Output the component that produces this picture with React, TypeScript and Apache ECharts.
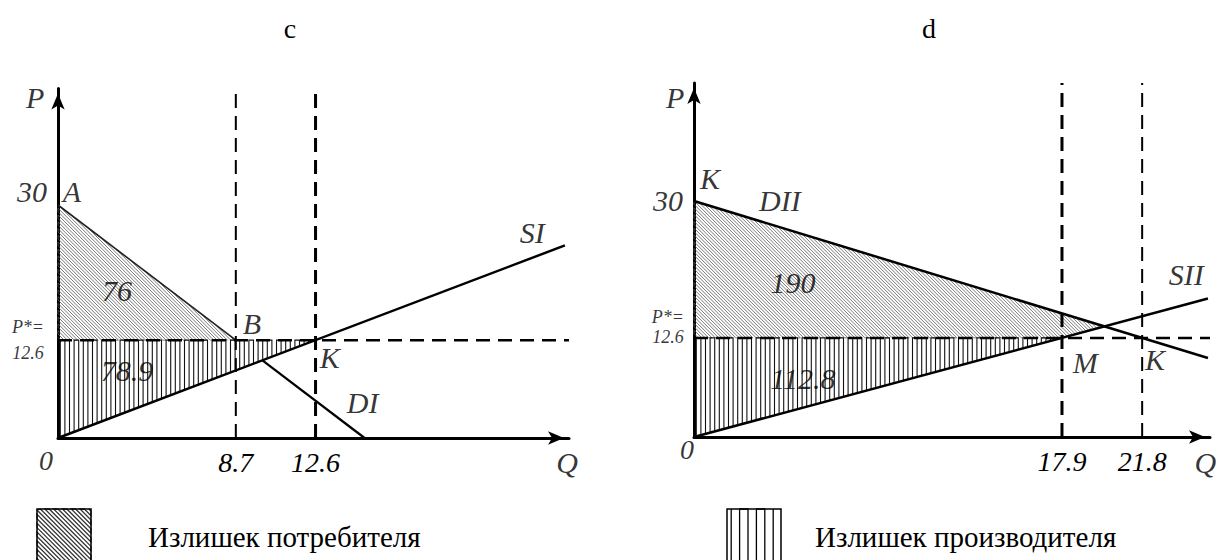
import React, { useEffect, useRef } from "react";
import * as echarts from "echarts";

// ---------- panel titles ----------
const panelTitles = ["c", "d"];

// ---------- panel c (left) ----------
const cXMax = 25;
const cYMax = 45;
const cXTicks = [8.7, 12.6];
const cDemandUpper = [[0, 30], [8.7, 12.6]];
const cDemandLower = [[10, 10], [15, 0]];
const cSupply = [[0, 0], [24.8, 24.8]];
const cPriceLine = [[0, 12.6], [25, 12.6]];
const cQuantityLines = [8.7, 12.6];
const cConsumerArea = [[0, 30], [0, 12.6], [8.7, 12.6]];
const cProducerArea = [[0, 0], [0, 12.6], [12.6, 12.6]];
// [text, x, y, kind]
const cLabels: [string, number, number, string][] = [
  ["P", -1.12, 43.8, "big"],
  ["30", -1.27, 31.7, "big"],
  ["A", 0.68, 31.7, "big"],
  ["P*=", -1.47, 14.3, "small"],
  ["12.6", -1.47, 10.9, "small"],
  ["76", 2.89, 19.05, "big"],
  ["B", 9.49, 14.8, "big"],
  ["78.9", 3.37, 8.75, "big"],
  ["K", 13.3, 10.4, "big"],
  ["DI", 14.9, 4.6, "big"],
  ["SI", 23.2, 26.4, "big"],
  ["0", -0.59, -2.85, "tick"],
  ["Q", 24.9, -3.1, "big"],
];

// ---------- panel d (right) ----------
const dXMax = 25.1;
const dYMax = 45;
const dXTicks = [17.9, 21.8];
const dDemand = [[0, 30], [25, 10.05]];
const dSupply = [[0, 0], [25, 17.6]];
const dPriceLine = [[0, 12.6], [25.1, 12.6]];
const dQuantityLines = [17.9, 21.8];
const dConsumerArea = [[0, 30], [19.9, 14.1], [17.9, 12.6], [0, 12.6]];
const dProducerArea = [[0, 0], [0, 12.6], [17.9, 12.6]];
const dLabels: [string, number, number, string][] = [
  ["P", -0.92, 43.1, "big"],
  ["30", -1.27, 30.1, "big"],
  ["K", 0.78, 32.9, "big"],
  ["DII", 4.18, 30.1, "big"],
  ["190", 4.82, 19.6, "big"],
  ["112.8", 5.3, 7.5, "big"],
  ["P*=", -1.27, 15.25, "small"],
  ["12.6", -1.27, 12.7, "small"],
  ["M", 19.03, 9.5, "big"],
  ["K", 22.43, 9.8, "big"],
  ["SII", 23.94, 20.6, "big"],
  ["0", -0.34, -1.65, "tick"],
  ["Q", 24.87, -3.2, "big"],
];

// ---------- legend ----------
const legendTexts = ["Излишек потребителя", "Излишек производителя"];

const SERIF = "Liberation Serif";
const labelSizes: Record<string, number> = { big: 30, small: 18, tick: 28 };

type Pt = number[];

// zig-zag hatch in pixel space: consecutive strokes are joined along the region's border
function hatchPoints(pts: Pt[], kind: "vert" | "diag", step: number) {
  const out: number[][] = [];
  const proj = kind === "vert" ? (p: Pt) => p[0] : (p: Pt) => p[1] - p[0];
  const vals = pts.map(proj);
  const lo = Math.min(...vals);
  const hi = Math.max(...vals);
  let k = 0;
  for (let c = lo + step / 2; c < hi; c += step) {
    const hits: Pt[] = [];
    for (let i = 0; i < pts.length; i++) {
      const a = pts[i];
      const b = pts[(i + 1) % pts.length];
      const fa = proj(a) - c;
      const fb = proj(b) - c;
      if ((fa <= 0 && fb > 0) || (fa > 0 && fb <= 0)) {
        const t = fa / (fa - fb);
        hits.push([a[0] + t * (b[0] - a[0]), a[1] + t * (b[1] - a[1])]);
      }
    }
    if (hits.length >= 2) {
      hits.sort((p, q) => p[1] - q[1]);
      const p = hits[0];
      const q = hits[hits.length - 1];
      if (k % 2 === 0) out.push(p, q);
      else out.push(q, p);
      k++;
    }
  }
  return out;
}

function lineSeries(gi: number, data: Pt[], width: number, color = "#000", type: any = "solid", z = 3) {
  return {
    type: "line",
    xAxisIndex: gi,
    yAxisIndex: gi,
    data,
    symbol: "none",
    showSymbol: false,
    silent: true,
    clip: false,
    z,
    lineStyle: { width, color, type, cap: "butt", join: "miter" },
    emphasis: { disabled: true },
  };
}

function labelSeries(gi: number, items: [string, number, number, string][]) {
  return {
    type: "scatter",
    xAxisIndex: gi,
    yAxisIndex: gi,
    silent: true,
    clip: false,
    symbolSize: 1,
    z: 5,
    itemStyle: { color: "rgba(0,0,0,0)" },
    data: items.map(([t, x, y, kind]) => ({
      value: [x, y],
      label: {
        show: true,
        position: "inside",
        formatter: t,
        fontSize: labelSizes[kind],
        fontStyle: "italic",
        fontFamily: SERIF,
        color: "#000",
        textBorderWidth: 0,
      },
    })),
  };
}

function axes(gi: number, xMax: number, yMax: number, ticks: number[]) {
  const axisLine = {
    show: true,
    onZero: false,
    symbol: ["none", "arrow"],
    symbolSize: [10, 16],
    symbolOffset: [0, -5],
    lineStyle: { color: "#000", width: 3 },
  };
  return {
    x: {
      type: "value",
      gridIndex: gi,
      min: 0,
      max: xMax,
      axisLine,
      axisTick: { show: false },
      splitLine: { show: false },
      axisLabel: {
        show: true,
        customValues: ticks,
        formatter: (v: number) => String(v),
        fontSize: 28,
        fontStyle: "italic",
        fontFamily: SERIF,
        color: "#000",
        margin: 10,
      },
    },
    y: {
      type: "value",
      gridIndex: gi,
      min: 0,
      max: yMax,
      axisLine,
      axisTick: { show: false },
      splitLine: { show: false },
      axisLabel: { show: false },
    },
  };
}

function legendGraphics() {
  const els: any[] = [];
  const b1 = { x: 37, y: 509, w: 54, h: 60 };
  const r1 = [[b1.x, b1.y], [b1.x + b1.w, b1.y], [b1.x + b1.w, b1.y + b1.h], [b1.x, b1.y + b1.h]];
  els.push({ type: "polyline", shape: { points: hatchPoints(r1, "diag", 4.4) }, style: { stroke: "#333", lineWidth: 1.3, fill: "none" } });
  els.push({ type: "rect", shape: { x: b1.x, y: b1.y, width: b1.w, height: b1.h }, style: { fill: "none", stroke: "#000", lineWidth: 1.5 } });
  const b2 = { x: 727, y: 509, w: 54, h: 60 };
  const r2 = [[b2.x, b2.y], [b2.x + b2.w, b2.y], [b2.x + b2.w, b2.y + b2.h], [b2.x, b2.y + b2.h]];
  els.push({ type: "polyline", shape: { points: hatchPoints(r2, "vert", 8.4) }, style: { stroke: "#000", lineWidth: 1.3, fill: "none" } });
  els.push({ type: "rect", shape: { x: b2.x, y: b2.y, width: b2.w, height: b2.h }, style: { fill: "none", stroke: "#000", lineWidth: 1.5 } });
  els.push({ type: "text", x: 148, y: 537, style: { text: legendTexts[0], font: "29px Liberation Serif", fill: "#000", align: "left", verticalAlign: "middle" } });
  els.push({ type: "text", x: 815, y: 537, style: { text: legendTexts[1], font: "29px Liberation Serif", fill: "#000", align: "left", verticalAlign: "middle" } });
  els.push({ type: "text", x: 290, y: 28, style: { text: panelTitles[0], font: "28px Liberation Serif", fill: "#000", align: "center", verticalAlign: "middle" } });
  els.push({ type: "text", x: 929, y: 28, style: { text: panelTitles[1], font: "28px Liberation Serif", fill: "#000", align: "center", verticalAlign: "middle" } });
  return els;
}

export default function App() {
  const ref = useRef<HTMLDivElement>(null);
  useEffect(() => {
    if (!ref.current) return;
    const chart = echarts.init(ref.current, undefined, { renderer: "svg" });
    const a0 = axes(0, cXMax, cYMax, cXTicks);
    const a1 = axes(1, dXMax, dYMax, dXTicks);
    const dash = [14, 8];
    const base: any = {
      animation: false,
      backgroundColor: "#fff",
      textStyle: { fontFamily: SERIF, color: "#000" },
      grid: [
        { left: 58, top: 88.5, width: 511, height: 349.5, outerBoundsMode: "none", containLabel: false },
        { left: 694, top: 83, width: 516, height: 354, outerBoundsMode: "none", containLabel: false },
      ],
      xAxis: [a0.x, a1.x],
      yAxis: [a0.y, a1.y],
      graphic: legendGraphics(),
    };
    const mainSeries = [
      lineSeries(0, cDemandUpper, 1.6, "#222"),
      lineSeries(0, cDemandLower, 2.2),
      lineSeries(0, cSupply, 2.5),
      lineSeries(0, cPriceLine, 2.5, "#000", dash),
      lineSeries(0, [[cQuantityLines[0], 0], [cQuantityLines[0], cYMax]], 2, "#000", dash),
      lineSeries(0, [[cQuantityLines[1], 0], [cQuantityLines[1], cYMax]], 3, "#000", dash),
      labelSeries(0, cLabels),
      lineSeries(1, dDemand, 2.5),
      lineSeries(1, dSupply, 2.5),
      lineSeries(1, dPriceLine, 2.5, "#000", dash),
      lineSeries(1, [[dQuantityLines[0], 0], [dQuantityLines[0], dYMax]], 3, "#000", dash),
      lineSeries(1, [[dQuantityLines[1], 0], [dQuantityLines[1], dYMax]], 2, "#000", dash),
      labelSeries(1, dLabels),
    ];
    chart.setOption({ ...base, series: mainSeries });

    // hatching: clip strokes in pixel space using the chart's own scales, then map back to data
    const hatch = (gi: number, poly: Pt[], kind: "vert" | "diag", step: number, width: number, color: string) => {
      const finder = { xAxisIndex: gi, yAxisIndex: gi };
      const px = poly.map((p) => chart.convertToPixel(finder, p) as number[]);
      const data = hatchPoints(px, kind, step).map((p) => chart.convertFromPixel(finder, p) as number[]);
      return lineSeries(gi, data, width, color, "solid", 1);
    };
    const hatchSeries = [
      hatch(0, cConsumerArea, "diag", 3.4, 0.8, "#555"),
      hatch(0, cProducerArea, "vert", 4.6, 1.1, "#111"),
      hatch(1, dConsumerArea, "diag", 3.4, 0.8, "#555"),
      hatch(1, dProducerArea, "vert", 4.6, 1.1, "#111"),
    ];
    chart.setOption({ ...base, series: [...hatchSeries, ...mainSeries] }, { notMerge: true });
    return () => chart.dispose();
  }, []);
  return (
    <div
      ref={ref}
      style={{ position: "absolute", left: 0, top: 0, width: 1218, height: 560, background: "#fff" }}
    />
  );
}
